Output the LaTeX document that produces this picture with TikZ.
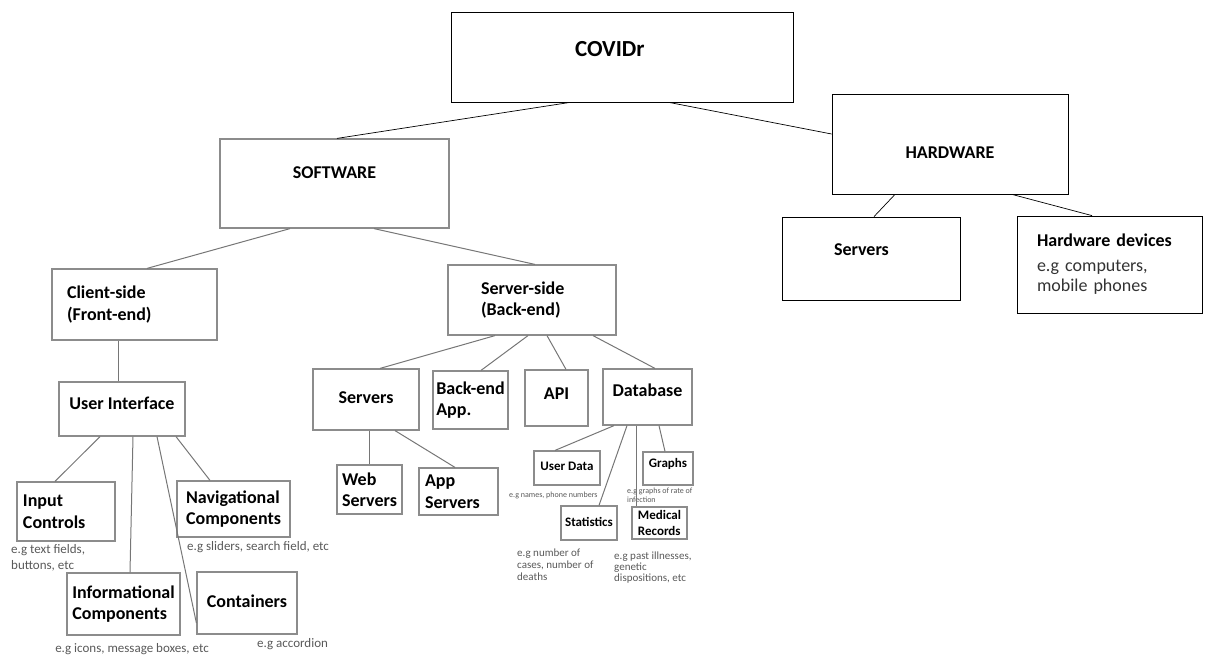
\documentclass[tikz,border=0pt]{standalone}
\usepackage{fontspec}
\setmainfont{Carlito}
\definecolor{boxgray}{HTML}{8C8C8C}
\definecolor{linegray}{HTML}{767676}
\definecolor{notegray}{HTML}{595959}

\begin{document}
\begin{tikzpicture}[x=1pt,y=-1pt,
    topbox/.style={draw=black,line width=0.8pt,inner sep=0pt,font=\bfseries\fontsize{18}{21}\selectfont},
    box/.style={draw=boxgray,line width=1.2pt,inner sep=0pt,font=\bfseries\fontsize{18}{21.5}\selectfont,align=left},
    smallbox/.style={box,font=\bfseries\fontsize{13}{16}\selectfont},
    note/.style={text=notegray,inner sep=0pt,anchor=west,align=left,font=\fontsize{13}{16}\selectfont},
    toplink/.style={draw=black,line width=0.7pt},
    link/.style={draw=linegray,line width=1pt}]
    \useasboundingbox (0,0) rectangle (1205,657);

    % top level
    \node[topbox,minimum width=342pt,text width=94pt,inner xsep=124pt,align=left,text height=44.3pt,text depth=45.7pt,font=\bfseries\fontsize{23}{26}\selectfont] (covid) at (622,57) {COVIDr};
    \node[box,minimum width=229pt,text height=39.7pt,text depth=49.3pt] (sw) at (334.5,183.5) {SOFTWARE};
    \node[topbox,minimum width=236pt,text height=64.7pt,text depth=35.3pt] (hw) at (950,144) {HARDWARE};

    % hardware
    \node[topbox,minimum width=178pt,text width=74pt,inner xsep=52pt,align=left,text height=38.7pt,text depth=44.3pt] (hsrv) at (871,258.5) {Servers};
    \node[topbox,font=\fontsize{18}{20}\selectfont,minimum width=185pt,minimum height=97pt,text width=145pt,inner xsep=20pt,align=left] (hdev) at (1109.5,264.5) {\textbf{Hardware devices}\\[5pt]\color{black!80}e.g computers,\\mobile phones};

    % software
    \node[box,minimum width=165pt,minimum height=71pt,text width=135pt,inner xsep=15pt] (client) at (134.5,304.5) {Client-side\\(Front-end)};
    \node[box,minimum width=168pt,minimum height=70pt,text width=102pt,inner xsep=33pt] (server) at (532,300) {Server-side\\(Back-end)};
    \node[box,minimum width=126pt,text height=27.7pt,text depth=26.3pt] (ui) at (122,409) {User Interface};

    \node[box,minimum width=98pt,minimum height=59pt,text width=86pt,inner xsep=6pt] (input) at (66,511.5) {Input\\Controls};
    \node[box,minimum width=113pt,minimum height=56pt] (nav) at (233.5,509) {Navigational\\Components};
    \node[box,minimum width=113pt,minimum height=62pt] (info) at (123.5,604) {Informational\\Components};
    \node[box,minimum width=100pt,text height=35.7pt,text depth=26.3pt] (cont) at (247,603) {Containers};

    \node[box,minimum width=106pt,text height=34.7pt,text depth=26.3pt] (srv) at (366,399.5) {Servers};
    \node[box,minimum width=75pt,minimum height=58pt] (bapp) at (470.5,400) {Back-end\\App.};
    \node[box,minimum width=63pt,text height=29.7pt,text depth=26.3pt] (api) at (556.5,398) {API};
    \node[box,minimum width=89pt,text height=27.7pt,text depth=28.3pt] (db) at (647.5,397) {Database};
    \node[box,minimum width=65pt,minimum height=49pt] (web) at (369.5,489.5) {Web\\Servers};
    \node[box,minimum width=79pt,minimum height=47pt,text width=67pt,inner xsep=6pt] (apps) at (458.5,491.5) {App\\Servers};

    \node[smallbox,minimum width=66pt,text height=19pt,text depth=15pt] (udata) at (567,468) {User Data};
    \node[smallbox,minimum width=50pt,text height=15pt,text depth=18pt] (graphs) at (668,468.5) {Graphs};
    \node[smallbox,minimum width=56pt,text height=20pt,text depth=14pt] (stats) at (589,523) {Statistics};
    \node[smallbox,minimum width=55pt,minimum height=32pt] (med) at (659.5,523) {Medical\\Records};

    % examples under the boxes
    \node[note] (n-input) at (11,558) {e.g text fields,\\buttons, etc};
    \node[note] (n-nav) at (187,547) {e.g sliders, search field, etc};
    \node[note,anchor=center] (n-info) at (132,649) {e.g icons, message boxes, etc};
    \node[note] (n-cont) at (257,644) {e.g accordion};
    \node[note,font=\fontsize{8}{9}\selectfont] (n-udata) at (509,495) {e.g names, phone numbers};
    \node[note,font=\fontsize{8}{9}\selectfont] (n-graphs) at (627,495.5) {e.g graphs of rate of\\infection};
    \node[note,font=\fontsize{11}{12}\selectfont] (n-stats) at (517,565) {e.g number of\\cases, number of\\deaths};
    \node[note,font=\fontsize{11}{11}\selectfont] (n-med) at (614,567.5) {e.g past illnesses,\\genetic\\dispositions, etc};

    \draw[toplink] ([xshift=-52pt]covid.south) -- ([xshift=2.5pt]sw.north);
    \draw[toplink] ([xshift=47pt]covid.south) -- ([yshift=10pt]hw.west);
    \draw[toplink] ([xshift=-55pt]hw.south) -- ([xshift=3pt]hsrv.north);
    \draw[toplink] ([xshift=62pt]hw.south) -- ([xshift=-17.5pt]hdev.north);

    \draw[link] ([xshift=-44.5pt]sw.south) -- ([xshift=12.5pt]client.north);
    \draw[link] ([xshift=39.5pt]sw.south) -- ([xshift=3pt]server.north);
    \draw[link] ([xshift=-16.5pt]client.south) -- ([xshift=-4pt]ui.north);

    \draw[link] ([xshift=-22pt]ui.south) -- ([xshift=-11pt]input.north);
    \draw[link] ([xshift=11pt]ui.south) -- ([xshift=6.5pt]info.north);
    \draw[link] ([xshift=35pt]ui.south) -- ([yshift=-20pt]cont.west);
    \draw[link] ([xshift=54pt]ui.south) -- ([xshift=-23.5pt]nav.north);

    \draw[link] ([xshift=-37pt]server.south) -- ([xshift=14pt]srv.north);
    \draw[link] ([xshift=-4pt]server.south) -- ([xshift=10.5pt]bapp.north);
    \draw[link] ([xshift=15pt]server.south) -- ([xshift=9.5pt]api.north);
    \draw[link] ([xshift=61pt]server.south) -- ([xshift=7.5pt]db.north);

    \draw[link] ([xshift=3pt]srv.south) -- ([xshift=-0.5pt]web.north);
    \draw[link] ([xshift=29pt]srv.south) -- ([xshift=-3.5pt]apps.north);

    \draw[link] ([xshift=-33.5pt]db.south) -- ([xshift=-12pt]udata.north);
    \draw[link] ([xshift=-20.5pt]db.south) -- ([xshift=10pt]stats.north);
    \draw[link] ([xshift=-11.5pt]db.south) -- ([xshift=-23.5pt]med.north);
    \draw[link] ([xshift=11.5pt]db.south) -- ([xshift=-3pt]graphs.north);
\end{tikzpicture}
\end{document}
